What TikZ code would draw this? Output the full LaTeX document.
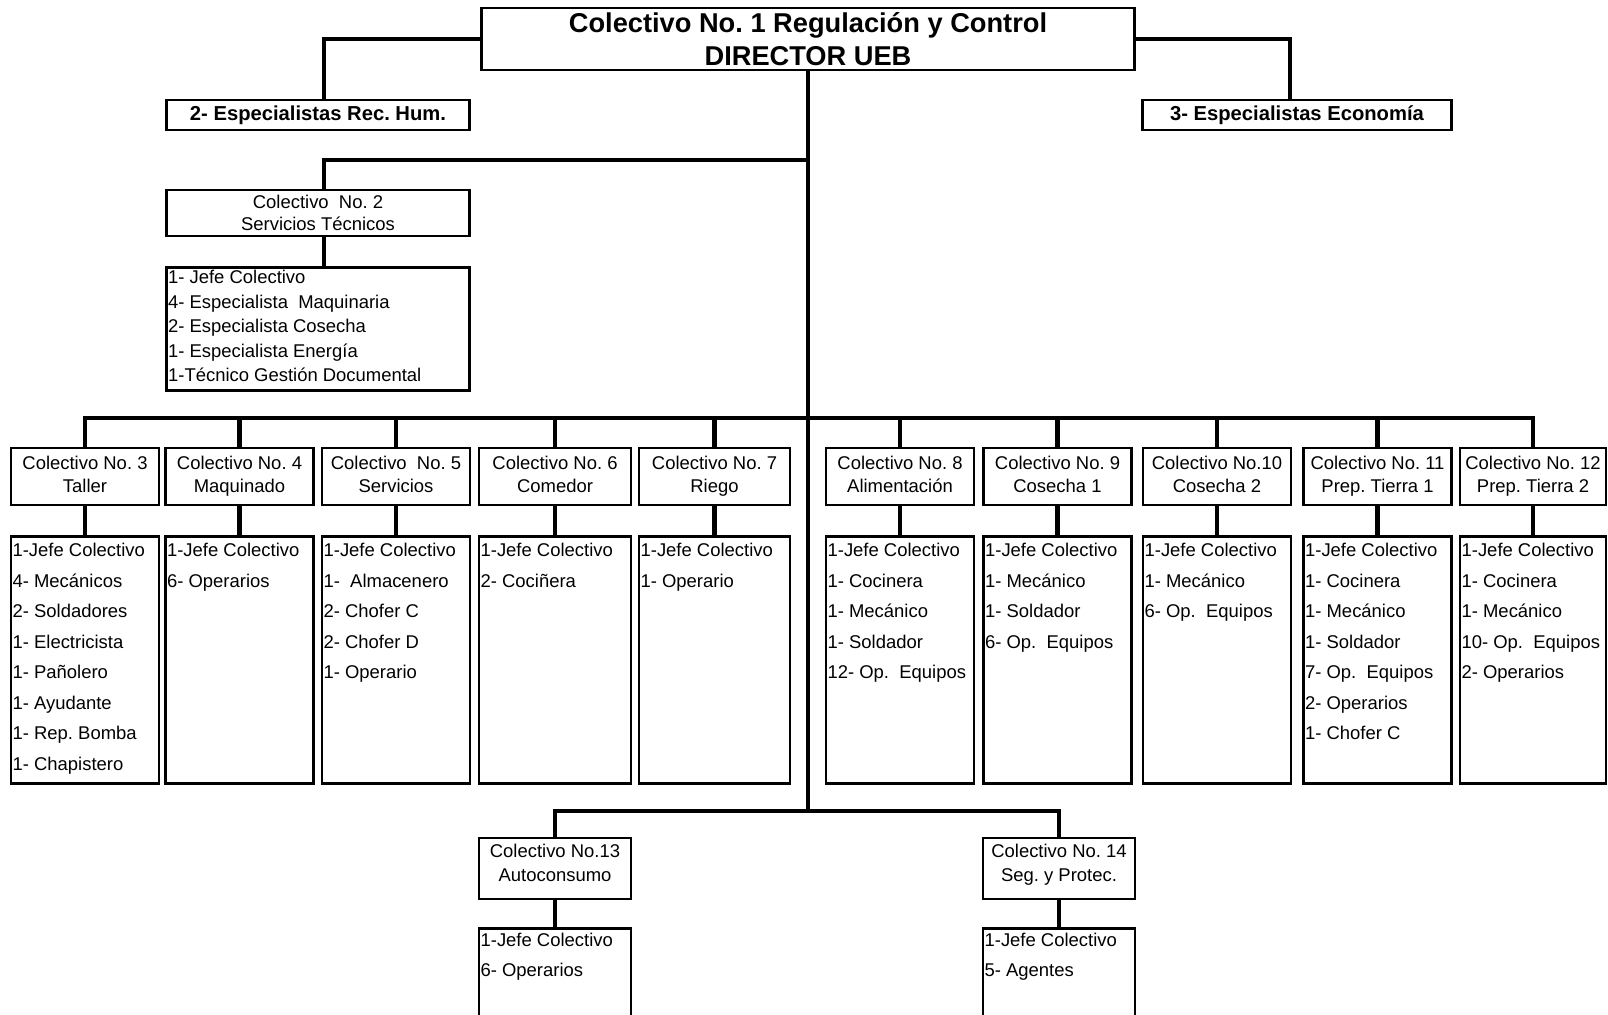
\documentclass[tikz,border=0pt]{standalone}
\usepackage{fontspec}
\setmainfont{Liberation Sans}
\usetikzlibrary{positioning}
\tikzset{
  box/.style={draw, line width=1.6pt, rectangle, inner sep=0pt, align=center, minimum width=2.96cm},
  hdr/.style={box, minimum height=1.14cm, font=\fontsize{10.5}{13.4}\selectfont, text height=20.5pt, text depth=2pt},
  lst/.style={box, minimum height=4.94cm},
  names/.style={anchor=north west, align=left, inner xsep=1.5pt, inner ysep=4.2pt, font=\fontsize{10.5}{#1}\selectfont},
  names/.default=17.4,
  link/.style={draw, line width=2.6pt},
}
\frenchspacing

\begin{document}
\begin{tikzpicture}[x=0.02cm, y=-0.02cm]
    \useasboundingbox (0,0) rectangle (1608,1014);
    \clip (0,0) rectangle (1608,1014);

    % direccion
    \node [box, minimum width=13.06cm, minimum height=1.24cm, font=\bfseries\fontsize{15.5}{18.7}\selectfont] (dir) at (808,39) {Colectivo No. 1 Regulación y Control\\DIRECTOR UEB};
    \node [box, minimum width=6.06cm, minimum height=0.6cm, font=\bfseries\fontsize{11.5}{13}\selectfont] (rh) at (318,115) {2- Especialistas Rec. Hum.};
    \node [box, minimum width=6.18cm, minimum height=0.6cm, font=\bfseries\fontsize{11.5}{13}\selectfont] (eco) at (1297,115) {3- Especialistas Economía};

    % colectivo 2
    \node [hdr, minimum width=6.06cm, minimum height=0.92cm, font=\fontsize{10.5}{12.8}\selectfont, text height=21.4pt, text depth=1pt] (c2) at (318,213) {Colectivo~ No. 2\\Servicios Técnicos};
    \node [lst, minimum width=6.06cm, minimum height=2.46cm, below=0.58cm of c2] (l2) {};
    \node [names=13.9, inner ysep=2.1pt] (n2) at (l2.north west) {1- Jefe Colectivo\\4- Especialista~ Maquinaria\\2- Especialista Cosecha\\1- Especialista Energía\\1-Técnico Gestión Documental};

    % colectivos 3 a 12
    \node [hdr] (c3) at (85,476.5) {Colectivo No. 3\\Taller};
    \node [hdr] (c4) at (239.5,476.5) {Colectivo No. 4\\Maquinado};
    \node [hdr] (c5) at (396,476.5) {Colectivo~ No. 5\\Servicios};
    \node [hdr, minimum width=3.04cm] (c6) at (555,476.5) {Colectivo No. 6\\Comedor};
    \node [hdr, minimum width=3.02cm] (c7) at (714.5,476.5) {Colectivo No. 7\\Riego};
    \node [hdr] (c8) at (900,476.5) {Colectivo No. 8\\Alimentación};
    \node [hdr] (c9) at (1057.5,476.5) {Colectivo No. 9\\Cosecha 1};
    \node [hdr] (c10) at (1217,476.5) {Colectivo No.10\\Cosecha 2};
    \node [hdr] (c11) at (1377.5,476.5) {Colectivo No. 11\\Prep. Tierra 1};
    \node [hdr, minimum width=2.92cm] (c12) at (1533,476.5) {Colectivo No. 12\\Prep. Tierra 2};

    \node [lst, below=0.58cm of c3] (l3) {};
    \node [lst, below=0.58cm of c4] (l4) {};
    \node [lst, below=0.58cm of c5] (l5) {};
    \node [lst, minimum width=3.04cm, below=0.58cm of c6] (l6) {};
    \node [lst, minimum width=3.02cm, below=0.58cm of c7] (l7) {};
    \node [lst, below=0.58cm of c8] (l8) {};
    \node [lst, below=0.58cm of c9] (l9) {};
    \node [lst, below=0.58cm of c10] (l10) {};
    \node [lst, below=0.58cm of c11] (l11) {};
    \node [lst, minimum width=2.92cm, below=0.58cm of c12] (l12) {};

    \node [names] (n3) at (l3.north west) {1-Jefe Colectivo\\4- Mecánicos\\2- Soldadores\\1- Electricista\\1- Pañolero\\1- Ayudante\\1- Rep. Bomba\\1- Chapistero};
    \node [names] (n4) at (l4.north west) {1-Jefe Colectivo\\6- Operarios};
    \node [names] (n5) at (l5.north west) {1-Jefe Colectivo\\1-~ Almacenero\\2- Chofer C\\2- Chofer D\\1- Operario};
    \node [names] (n6) at (l6.north west) {1-Jefe Colectivo\\2- Cociñera};
    \node [names] (n7) at (l7.north west) {1-Jefe Colectivo\\1- Operario};
    \node [names] (n8) at (l8.north west) {1-Jefe Colectivo\\1- Cocinera\\1- Mecánico\\1- Soldador\\12- Op.~ Equipos};
    \node [names] (n9) at (l9.north west) {1-Jefe Colectivo\\1- Mecánico\\1- Soldador\\6- Op.~ Equipos};
    \node [names] (n10) at (l10.north west) {1-Jefe Colectivo\\1- Mecánico\\6- Op.~ Equipos};
    \node [names] (n11) at (l11.north west) {1-Jefe Colectivo\\1- Cocinera\\1- Mecánico\\1- Soldador\\7- Op.~ Equipos\\2- Operarios\\1- Chofer C};
    \node [names] (n12) at (l12.north west) {1-Jefe Colectivo\\1- Cocinera\\1- Mecánico\\10- Op.~ Equipos\\2- Operarios};

    % colectivos 13 y 14
    \node [hdr, minimum width=3.04cm, minimum height=1.22cm, text height=17pt, text depth=2.2pt] (c13) at (555,868.5) {Colectivo No.13\\Autoconsumo};
    \node [hdr, minimum width=3.04cm, minimum height=1.22cm, text height=17pt, text depth=2.2pt] (c14) at (1059,868.5) {Colectivo No. 14\\Seg. y Protec.};
    \node [lst, minimum width=3.04cm, minimum height=2.2cm, below=0.54cm of c13] (l13) {};
    \node [lst, minimum width=3.04cm, minimum height=2.2cm, below=0.54cm of c14] (l14) {};
    \node [names=16.8, inner ysep=3.2pt] (n13) at (l13.north west) {1-Jefe Colectivo\\6- Operarios};
    \node [names=16.8, inner ysep=3.2pt] (n14) at (l14.north west) {1-Jefe Colectivo\\5- Agentes};

    % lineas
    \coordinate (hub2) at (808,160);
    \coordinate (hub) at (808,418);
    \coordinate (trunk) at (808,811);
    \path [link] (dir.south) -- (trunk);
    \path [link] (dir.west) -| ([xshift=0.12cm]rh.north);
    \path [link] (dir.east) -| ([xshift=-0.14cm]eco.north);
    \path [link] (hub2) -| ([xshift=0.12cm]c2.north);
    \path [link] ([xshift=0.12cm]c2.south) -- ([xshift=0.12cm]l2.north);
    \foreach \n in {3,...,12} {
        \path [link] (hub) -| (c\n.north);
        \path [link] (c\n.south) -- (l\n.north);
    }
    \foreach \n in {13,14} {
        \path [link] (trunk) -| (c\n.north);
        \path [link] (c\n.south) -- (l\n.north);
    }
\end{tikzpicture}
\end{document}
